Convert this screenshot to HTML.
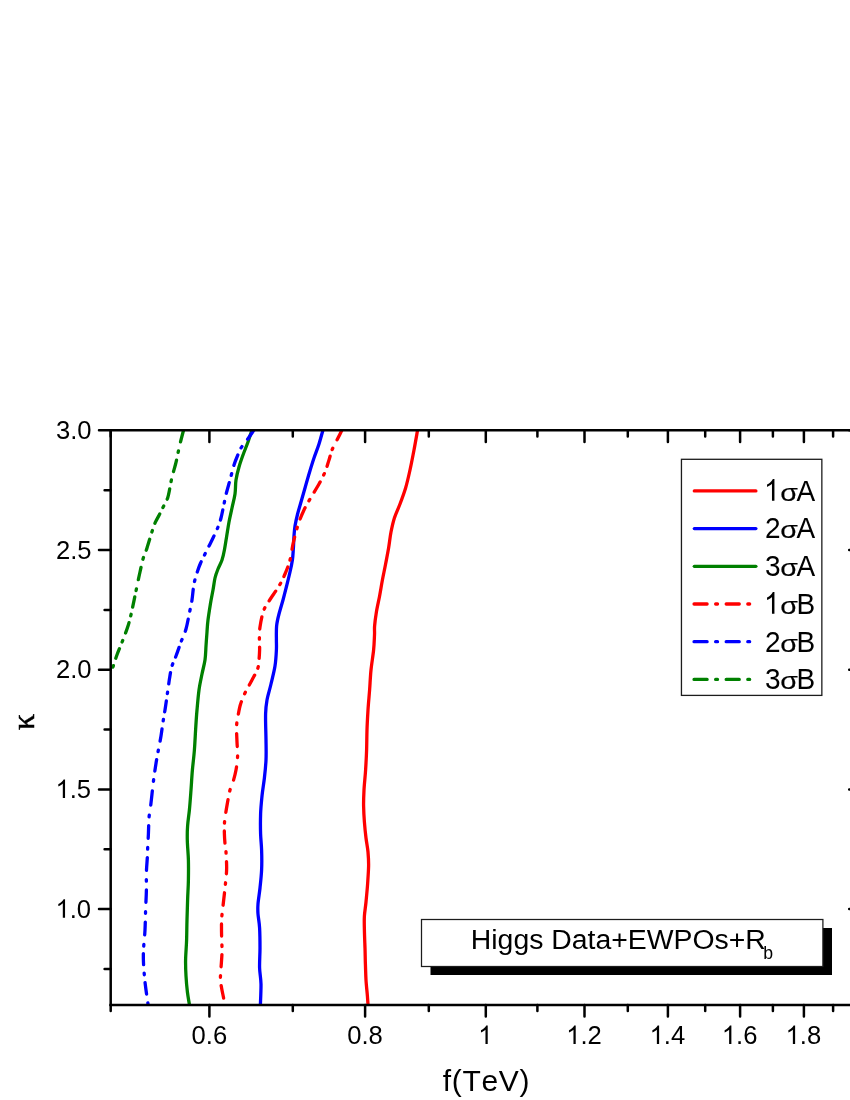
<!DOCTYPE html>
<html><head><meta charset="utf-8"><title>chart</title>
<style>html,body{margin:0;padding:0;background:#fff;}body{width:850px;height:1100px;overflow:hidden;}svg{display:block;}text{font-family:"Liberation Sans",sans-serif;fill:#000;font-kerning:none;}svg{will-change:transform;}</style></head><body>
<svg width="850" height="1100" viewBox="0 0 850 1100">
<rect width="850" height="1100" fill="#fff"/>
<defs><clipPath id="pc"><rect x="110.7" y="430.3" width="750.2" height="575.6"/></clipPath></defs>
<g fill="none" stroke-linejoin="round" clip-path="url(#pc)">
<path d="M417.6 430.0C417.0 433.3 415.3 443.3 414.0 450.0C412.7 456.7 411.4 463.7 410.0 470.0C408.6 476.3 407.3 482.3 405.6 488.0C403.9 493.7 401.9 499.0 400.0 504.0C398.1 509.0 395.9 513.3 394.4 518.0C392.9 522.7 392.0 527.0 391.0 532.0C390.0 537.0 389.5 542.7 388.6 548.0C387.7 553.3 386.6 558.7 385.6 564.0C384.6 569.3 383.4 574.7 382.4 580.0C381.4 585.3 380.6 590.7 379.6 596.0C378.6 601.3 377.2 607.0 376.4 612.0C375.6 617.0 374.9 622.2 374.6 626.0C374.3 629.8 374.7 631.0 374.5 635.0C374.3 639.0 374.2 644.2 373.6 650.0C373.0 655.8 371.7 663.3 371.0 670.0C370.3 676.7 370.1 683.3 369.6 690.0C369.1 696.7 368.4 703.3 368.0 710.0C367.6 716.7 367.2 723.3 367.0 730.0C366.8 736.7 366.8 743.3 366.6 750.0C366.4 756.7 366.0 763.3 365.6 770.0C365.2 776.7 364.3 784.0 364.0 790.0C363.7 796.0 363.5 800.7 363.6 806.0C363.7 811.3 364.0 816.7 364.4 822.0C364.8 827.3 365.4 833.0 366.0 838.0C366.6 843.0 367.6 847.3 368.0 852.0C368.4 856.7 368.7 860.7 368.6 866.0C368.5 871.3 368.0 878.0 367.6 884.0C367.2 890.0 366.5 896.7 366.0 902.0C365.5 907.3 364.7 911.3 364.4 916.0C364.1 920.7 364.3 924.7 364.4 930.0C364.5 935.3 364.8 942.3 365.0 948.0C365.2 953.7 365.2 958.7 365.4 964.0C365.6 969.3 365.7 974.7 366.0 980.0C366.3 985.3 367.1 991.9 367.4 996.0C367.7 1000.1 367.9 1003.2 368.0 1004.6" stroke="#ff0000" stroke-width="3.3"/>
<path d="M323.0 430.0C322.3 432.3 320.5 439.3 319.0 444.0C317.5 448.7 315.6 453.3 314.0 458.0C312.4 462.7 311.1 467.0 309.6 472.0C308.1 477.0 306.4 483.0 305.0 488.0C303.6 493.0 302.2 497.7 301.0 502.0C299.8 506.3 298.6 510.0 297.6 514.0C296.6 518.0 295.6 522.3 295.0 526.0C294.4 529.7 294.3 532.3 294.0 536.0C293.7 539.7 293.7 544.0 293.4 548.0C293.1 552.0 293.0 556.0 292.4 560.0C291.8 564.0 291.0 567.7 290.0 572.0C289.0 576.3 287.8 581.3 286.6 586.0C285.4 590.7 284.3 595.3 283.0 600.0C281.7 604.7 280.1 609.7 279.0 614.0C277.9 618.3 277.0 621.7 276.6 626.0C276.2 630.3 276.4 636.0 276.4 640.0C276.4 644.0 276.6 645.7 276.4 650.0C276.2 654.3 275.9 660.3 275.0 666.0C274.1 671.7 272.3 678.3 271.0 684.0C269.7 689.7 267.9 695.0 267.0 700.0C266.1 705.0 265.8 707.3 265.6 714.0C265.4 720.7 265.9 732.3 266.0 740.0C266.1 747.7 266.3 753.7 266.0 760.0C265.7 766.3 265.1 772.0 264.4 778.0C263.7 784.0 262.6 790.0 262.0 796.0C261.4 802.0 260.8 807.7 260.6 814.0C260.4 820.3 260.4 828.0 260.6 834.0C260.8 840.0 261.4 844.0 261.6 850.0C261.8 856.0 261.9 863.7 261.6 870.0C261.3 876.3 260.6 882.3 260.0 888.0C259.4 893.7 258.3 899.7 258.0 904.0C257.7 908.3 257.7 910.0 258.0 914.0C258.3 918.0 259.3 922.3 259.6 928.0C259.9 933.7 260.0 941.3 260.0 948.0C260.0 954.7 259.4 962.0 259.6 968.0C259.8 974.0 260.9 977.9 261.0 984.0C261.1 990.1 260.5 1001.2 260.4 1004.6" stroke="#0000ff" stroke-width="3.3"/>
<path d="M252.0 430.0C251.3 432.0 249.5 437.8 248.0 442.0C246.5 446.2 244.5 450.8 243.0 455.0C241.5 459.2 240.2 462.8 239.0 467.0C237.8 471.2 236.7 475.5 236.0 480.0C235.3 484.5 235.7 489.3 235.0 494.0C234.3 498.7 233.0 503.3 232.0 508.0C231.0 512.7 229.9 517.0 229.0 522.0C228.1 527.0 227.2 533.3 226.4 538.0C225.6 542.7 225.1 546.3 224.4 550.0C223.7 553.7 223.1 556.8 222.0 560.0C220.9 563.2 219.2 566.0 218.0 569.0C216.8 572.0 215.8 574.5 215.0 578.0C214.2 581.5 213.8 585.7 213.0 590.0C212.2 594.3 211.2 599.0 210.4 604.0C209.6 609.0 208.6 615.3 208.0 620.0C207.4 624.7 207.3 627.7 207.0 632.0C206.7 636.3 206.3 641.3 206.0 646.0C205.7 650.7 205.7 655.3 205.0 660.0C204.3 664.7 203.0 669.0 202.0 674.0C201.0 679.0 199.8 684.0 199.0 690.0C198.2 696.0 197.6 703.3 197.0 710.0C196.4 716.7 196.0 723.3 195.6 730.0C195.2 736.7 194.9 743.3 194.4 750.0C193.9 756.7 193.0 763.3 192.4 770.0C191.8 776.7 191.5 783.3 191.0 790.0C190.5 796.7 190.0 804.0 189.4 810.0C188.8 816.0 187.9 821.0 187.6 826.0C187.2 831.0 187.2 834.3 187.3 840.0C187.4 845.7 188.2 853.3 188.4 860.0C188.6 866.7 188.5 873.3 188.4 880.0C188.3 886.7 187.8 893.3 187.6 900.0C187.4 906.7 187.2 913.3 187.0 920.0C186.8 926.7 186.8 933.3 186.6 940.0C186.4 946.7 185.7 954.0 185.6 960.0C185.5 966.0 185.7 970.7 186.0 976.0C186.3 981.3 186.8 987.2 187.4 992.0C188.0 996.8 189.1 1002.5 189.4 1004.6" stroke="#008000" stroke-width="3.3"/>
<path d="M342.0 430.0C341.2 431.7 338.7 436.7 337.0 440.0C335.3 443.3 333.3 446.7 332.0 450.0C330.7 453.3 330.2 456.3 329.0 460.0C327.8 463.7 326.7 468.0 325.0 472.0C323.3 476.0 321.5 479.5 319.0 484.0C316.5 488.5 312.5 494.7 310.0 499.0C307.5 503.3 305.8 506.2 304.0 510.0C302.2 513.8 300.3 518.3 299.0 522.0C297.7 525.7 297.0 528.3 296.0 532.0C295.0 535.7 294.0 539.3 293.0 544.0C292.0 548.7 291.3 555.0 290.0 560.0C288.7 565.0 286.8 569.7 285.0 574.0C283.2 578.3 281.7 581.5 279.0 586.0C276.3 590.5 271.6 596.8 269.0 601.0C266.4 605.2 265.0 606.7 263.5 611.0C262.0 615.3 260.7 622.5 260.0 627.0C259.3 631.5 259.5 634.2 259.4 638.0C259.3 641.8 259.7 646.3 259.6 650.0C259.5 653.7 259.3 656.8 259.0 660.0C258.7 663.2 258.8 665.7 257.6 669.0C256.4 672.3 254.1 676.0 252.0 680.0C249.9 684.0 246.9 689.0 245.0 693.0C243.1 697.0 241.8 700.2 240.6 704.0C239.4 707.8 238.7 712.3 238.0 716.0C237.3 719.7 236.8 721.7 236.6 726.0C236.4 730.3 236.8 737.0 237.0 742.0C237.2 747.0 237.8 751.3 237.6 756.0C237.4 760.7 236.8 765.7 236.0 770.0C235.2 774.3 234.0 778.7 233.0 782.0C232.0 785.3 230.9 786.7 230.0 790.0C229.1 793.3 228.3 798.0 227.6 802.0C226.9 806.0 226.1 810.3 225.6 814.0C225.1 817.7 224.6 820.7 224.4 824.0C224.2 827.3 224.3 830.3 224.4 834.0C224.5 837.7 224.9 843.0 225.2 846.0C225.5 849.0 225.8 848.0 226.0 852.0C226.2 856.0 226.8 864.0 226.6 870.0C226.4 876.0 225.6 882.0 225.0 888.0C224.4 894.0 223.6 900.7 223.0 906.0C222.4 911.3 221.8 915.0 221.6 920.0C221.4 925.0 221.5 930.7 221.6 936.0C221.7 941.3 222.1 946.7 222.0 952.0C221.9 957.3 221.3 963.3 221.0 968.0C220.7 972.7 220.3 976.7 220.4 980.0C220.5 983.3 221.1 985.0 221.6 988.0C222.1 991.0 223.1 995.3 223.6 998.0C224.1 1000.7 224.3 1003.0 224.5 1004.0" stroke="#ff0000" stroke-width="3.3" stroke-dasharray="10.97 9.40 1.60 7.06 10.53 7.72 1.60 7.80 11.53 8.53 1.60 8.16 12.01 8.92 1.60 8.56 12.55 9.36 1.60 7.00 10.46 7.66 1.60 7.73 11.43 8.45 1.60 8.05 11.86 8.80 1.60 7.75 11.46 8.48 1.60 7.54 11.18 8.25 1.60 8.62 12.62 9.42 1.60 8.76 12.81 9.57 1.60 9.31 13.55 10.17 1.60 8.68 12.71 9.49 1.60 8.02 11.82 8.77 1.60 8.30 12.19 9.07 1.60 8.48 12.44 9.27 1.60 8.11 11.94 8.87 1.60 8.18 12.03 8.94 1.60 8.60 12.60 9.20 1.97 9999" stroke-linecap="round"/>
<path d="M254.0 430.0C252.8 431.7 249.2 437.0 247.0 440.0C244.8 443.0 242.7 445.2 241.0 448.0C239.3 450.8 238.2 454.2 237.0 457.0C235.8 459.8 235.2 461.2 234.0 465.0C232.8 468.8 231.3 475.3 230.0 480.0C228.7 484.7 227.5 488.7 226.4 493.0C225.3 497.3 224.5 501.8 223.6 506.0C222.7 510.2 221.9 514.5 221.0 518.0C220.1 521.5 219.3 523.7 218.0 527.0C216.7 530.3 214.5 534.8 213.0 538.0C211.5 541.2 210.3 543.3 209.0 546.0C207.7 548.7 206.4 551.2 205.0 554.0C203.6 556.8 201.8 560.2 200.6 563.0C199.4 565.8 198.7 567.5 197.6 571.0C196.5 574.5 194.9 579.2 194.0 584.0C193.1 588.8 192.7 595.3 192.0 600.0C191.3 604.7 190.6 607.2 189.6 612.0C188.6 616.8 187.4 624.0 186.0 629.0C184.6 634.0 182.7 637.5 181.0 642.0C179.3 646.5 177.5 652.0 176.0 656.0C174.5 660.0 173.1 662.3 172.0 666.0C170.9 669.7 170.3 673.7 169.6 678.0C168.9 682.3 168.4 686.7 167.6 692.0C166.8 697.3 165.8 705.0 165.0 710.0C164.2 715.0 163.7 717.7 163.0 722.0C162.3 726.3 161.8 731.0 161.0 736.0C160.2 741.0 158.9 747.0 158.0 752.0C157.1 757.0 156.3 761.3 155.6 766.0C154.9 770.7 154.2 775.3 153.6 780.0C153.0 784.7 152.5 789.3 152.0 794.0C151.5 798.7 150.9 804.0 150.4 808.0C149.9 812.0 149.3 813.7 149.0 818.0C148.7 822.3 148.6 829.5 148.4 834.0C148.2 838.5 148.0 841.3 147.8 845.0C147.6 848.7 147.6 851.5 147.4 856.0C147.2 860.5 146.6 866.3 146.4 872.0C146.2 877.7 146.5 883.7 146.4 890.0C146.3 896.3 145.8 903.3 145.6 910.0C145.4 916.7 145.3 923.7 145.0 930.0C144.7 936.3 143.9 943.0 143.6 948.0C143.3 953.0 143.3 955.3 143.4 960.0C143.5 964.7 144.0 971.0 144.4 976.0C144.8 981.0 145.4 985.3 146.0 990.0C146.6 994.7 147.7 1001.7 148.0 1004.0" stroke="#0000ff" stroke-width="3.3" stroke-dasharray="11.07 9.40 1.60 7.69 11.38 8.41 1.60 7.55 11.19 8.26 1.60 7.03 10.50 7.70 1.60 7.73 11.44 8.46 1.60 7.48 11.09 8.18 1.60 7.99 11.78 8.74 1.60 8.26 12.14 9.03 1.60 6.82 10.21 7.47 1.60 7.60 11.26 8.31 1.60 7.26 10.81 7.95 1.60 8.26 12.14 9.03 1.60 7.95 11.73 8.69 1.60 9.73 14.12 10.63 1.60 8.55 12.54 9.35 1.60 8.64 12.65 9.44 1.60 8.52 12.49 9.31 1.60 8.73 12.78 9.54 1.60 7.62 11.28 8.34 1.60 7.94 11.71 8.68 1.60 9999" stroke-linecap="round"/>
<path d="M183.6 430.0C183.0 432.3 180.9 440.2 180.0 444.0C179.1 447.8 178.7 449.7 178.0 453.0C177.3 456.3 176.7 459.7 175.6 464.0C174.5 468.3 172.6 474.5 171.6 479.0C170.6 483.5 169.9 487.9 169.3 491.0C168.7 494.1 168.4 495.6 167.8 497.5C167.2 499.4 166.4 500.9 165.6 502.5C164.8 504.1 164.3 504.9 163.2 507.0C162.1 509.1 160.5 512.5 159.2 515.0C157.9 517.5 156.6 519.5 155.4 522.2C154.2 524.9 153.6 526.7 152.2 531.0C150.8 535.3 148.5 543.3 147.0 548.0C145.5 552.7 144.2 555.0 143.0 559.0C141.8 563.0 141.2 566.7 140.0 572.0C138.8 577.3 137.4 584.3 136.0 591.0C134.6 597.7 132.9 606.2 131.6 612.0C130.3 617.8 129.5 621.2 128.0 626.0C126.5 630.8 124.3 636.3 122.5 641.0C120.7 645.7 118.8 650.1 117.3 654.0C115.8 657.9 114.7 661.9 113.8 664.5C112.9 667.1 112.1 668.9 111.8 669.8" stroke="#008000" stroke-width="3.3" stroke-dasharray="12.15 9.40 1.60 7.92 11.68 8.66 1.60 7.26 10.80 7.95 1.60 7.05 10.52 7.72 1.60 7.53 11.17 8.24 1.60 8.56 12.55 9.36 1.60 6.69 10.04 7.33 1.60 7.28 10.83 7.97 1.60 7.01 10.48 7.68 1.60 9999" stroke-linecap="round"/>
</g>
<g stroke="#000" stroke-width="2.5" fill="none" stroke-linecap="butt">
<path d="M110.7 1006.1V430.3H860.9V1004.9"/>
<path d="M109.5 1004.9H860.9"/>
<path d="M110.7 1004.9v6.1M110.7 430.3v6.1M209.4 1004.9v11.7M209.4 430.3v11.7M292.8 1004.9v6.1M292.8 430.3v6.1M365.1 1004.9v11.7M365.1 430.3v11.7M428.8 1004.9v6.1M428.8 430.3v6.1M485.8 1004.9v11.7M485.8 430.3v11.7M537.4 1004.9v6.1M537.4 430.3v6.1M584.5 1004.9v11.7M584.5 430.3v11.7M627.8 1004.9v6.1M627.8 430.3v6.1M667.9 1004.9v11.7M667.9 430.3v11.7M705.2 1004.9v6.1M705.2 430.3v6.1M740.1 1004.9v11.7M740.1 430.3v11.7M772.9 1004.9v6.1M772.9 430.3v6.1M803.9 1004.9v11.7M803.9 430.3v11.7M833.1 1004.9v6.1M833.1 430.3v6.1M860.9 1004.9v11.7M860.9 430.3v11.7" stroke-linecap="round"/>
<path d="M110.7 969.0h-6.1M860.9 969.0h-6.1M110.7 909.1h-11.7M860.9 909.1h-11.7M110.7 849.2h-6.1M860.9 849.2h-6.1M110.7 789.4h-11.7M860.9 789.4h-11.7M110.7 729.5h-6.1M860.9 729.5h-6.1M110.7 669.7h-11.7M860.9 669.7h-11.7M110.7 609.9h-6.1M860.9 609.9h-6.1M110.7 550.0h-11.7M860.9 550.0h-11.7M110.7 490.2h-6.1M860.9 490.2h-6.1M110.7 430.3h-11.7M860.9 430.3h-11.7" stroke-linecap="round"/>
</g>
<g font-size="25.6">
<text x="191.58" y="1044.00">0.6</text>
<text x="347.26" y="1044.00">0.8</text>
<path transform="translate(478.18,1044.00) scale(0.012500,-0.012500)" d="M763 0H583V1147Q518 1085 412.5 1023Q307 961 223 930V1104Q374 1175 487 1276Q600 1377 647 1472H763Z" fill="#000"/>
<path transform="translate(566.17,1044.00) scale(0.012500,-0.012500)" d="M763 0H583V1147Q518 1085 412.5 1023Q307 961 223 930V1104Q374 1175 487 1276Q600 1377 647 1472H763Z" fill="#000"/><text x="580.40" y="1044.00">.2</text>
<path transform="translate(649.58,1044.00) scale(0.012500,-0.012500)" d="M763 0H583V1147Q518 1085 412.5 1023Q307 961 223 930V1104Q374 1175 487 1276Q600 1377 647 1472H763Z" fill="#000"/><text x="663.82" y="1044.00">.4</text>
<path transform="translate(721.84,1044.00) scale(0.012500,-0.012500)" d="M763 0H583V1147Q518 1085 412.5 1023Q307 961 223 930V1104Q374 1175 487 1276Q600 1377 647 1472H763Z" fill="#000"/><text x="736.08" y="1044.00">.6</text>
<path transform="translate(785.58,1044.00) scale(0.012500,-0.012500)" d="M763 0H583V1147Q518 1085 412.5 1023Q307 961 223 930V1104Q374 1175 487 1276Q600 1377 647 1472H763Z" fill="#000"/><text x="799.81" y="1044.00">.8</text>
<text x="56.02" y="438.90">3.0</text>
<text x="56.02" y="558.60">2.5</text>
<text x="56.02" y="678.30">2.0</text>
<path transform="translate(55.52,798.00) scale(0.012500,-0.012500)" d="M763 0H583V1147Q518 1085 412.5 1023Q307 961 223 930V1104Q374 1175 487 1276Q600 1377 647 1472H763Z" fill="#000"/><text x="69.75" y="798.00">.5</text>
<path transform="translate(55.52,917.70) scale(0.012500,-0.012500)" d="M763 0H583V1147Q518 1085 412.5 1023Q307 961 223 930V1104Q374 1175 487 1276Q600 1377 647 1472H763Z" fill="#000"/><text x="69.75" y="917.70">.0</text>
</g>
<text x="442.7" y="1091" font-size="30" letter-spacing="0.7">f(TeV)</text>
<text transform="translate(34,722) rotate(-90)" font-size="32" text-anchor="middle" stroke="#000" stroke-width="0.5" style="font-family:'Liberation Serif',serif">κ</text>
<rect x="681.45" y="459.3" width="140.4" height="236.1" fill="#fff" stroke="#1c1c1c" stroke-width="1.3"/>
<path d="M694.3 490.9H755.9" stroke="#ff0000" stroke-width="3.3" stroke-linecap="round" fill="none"/>
<path transform="translate(764.00,500.70) scale(0.013670,-0.014746)" d="M763 0H583V1147Q518 1085 412.5 1023Q307 961 223 930V1104Q374 1175 487 1276Q600 1377 647 1472H763Z" fill="#000"/>
<text transform="translate(780.2,500.7) scale(1.185,1)" font-size="24.1" stroke="#000" stroke-width="0.18">σ</text>
<text transform="translate(796.4,500.7) scale(0.927,1)" font-size="30.2">A</text>
<path d="M694.3 528.6H755.9" stroke="#0000ff" stroke-width="3.3" stroke-linecap="round" fill="none"/>
<text transform="translate(765.0,538.4) scale(0.927,1)" font-size="30.2">2</text>
<text transform="translate(780.2,538.4) scale(1.185,1)" font-size="24.1" stroke="#000" stroke-width="0.18">σ</text>
<text transform="translate(796.4,538.4) scale(0.927,1)" font-size="30.2">A</text>
<path d="M694.3 566.3H755.9" stroke="#008000" stroke-width="3.3" stroke-linecap="round" fill="none"/>
<text transform="translate(765.0,576.1) scale(0.927,1)" font-size="30.2">3</text>
<text transform="translate(780.2,576.1) scale(1.185,1)" font-size="24.1" stroke="#000" stroke-width="0.18">σ</text>
<text transform="translate(796.4,576.1) scale(0.927,1)" font-size="30.2">A</text>
<path d="M694.05 604H757" stroke="#ff0000" stroke-width="3.3" stroke-dasharray="13.05 8.55 1.85 8.7" stroke-linecap="round" fill="none"/>
<path transform="translate(764.00,613.80) scale(0.013670,-0.014746)" d="M763 0H583V1147Q518 1085 412.5 1023Q307 961 223 930V1104Q374 1175 487 1276Q600 1377 647 1472H763Z" fill="#000"/>
<text transform="translate(780.2,613.8) scale(1.185,1)" font-size="24.1" stroke="#000" stroke-width="0.18">σ</text>
<text transform="translate(796.4,613.8) scale(0.927,1)" font-size="30.2">B</text>
<path d="M694.05 641.7H757" stroke="#0000ff" stroke-width="3.3" stroke-dasharray="13.05 8.55 1.85 8.7" stroke-linecap="round" fill="none"/>
<text transform="translate(765.0,651.5) scale(0.927,1)" font-size="30.2">2</text>
<text transform="translate(780.2,651.5) scale(1.185,1)" font-size="24.1" stroke="#000" stroke-width="0.18">σ</text>
<text transform="translate(796.4,651.5) scale(0.927,1)" font-size="30.2">B</text>
<path d="M694.05 679.4H757" stroke="#008000" stroke-width="3.3" stroke-dasharray="13.05 8.55 1.85 8.7" stroke-linecap="round" fill="none"/>
<text transform="translate(765.0,689.2) scale(0.927,1)" font-size="30.2">3</text>
<text transform="translate(780.2,689.2) scale(1.185,1)" font-size="24.1" stroke="#000" stroke-width="0.18">σ</text>
<text transform="translate(796.4,689.2) scale(0.927,1)" font-size="30.2">B</text>
<rect x="430.5" y="928" width="401.5" height="47" fill="#000"/>
<rect x="421.5" y="919.5" width="401.4" height="47" fill="#fff" stroke="#1c1c1c" stroke-width="1.25"/>
<text x="470.8" y="948.6" font-size="28.4">Higgs Data+EWPOs+R<tspan font-size="17.7" dy="10" dx="-2.6">b</tspan></text>
</svg></body></html>
